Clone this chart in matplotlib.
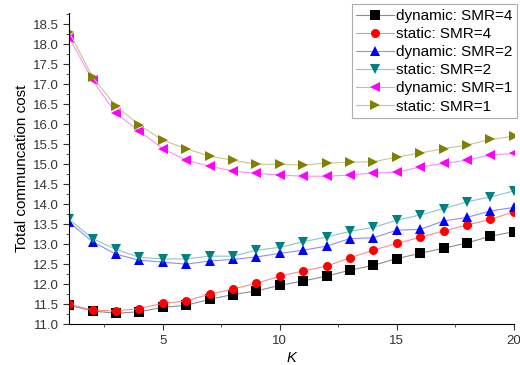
import numpy as np
import matplotlib
matplotlib.use("Agg")
import matplotlib.pyplot as plt
from matplotlib.ticker import MultipleLocator, FormatStrFormatter

plt.rcParams['font.family'] = ['Liberation Sans', 'DejaVu Sans']

k = np.arange(1, 21)

dyn_smr4 = [11.47, 11.33, 11.27, 11.31, 11.42, 11.47, 11.62, 11.74, 11.83, 11.97,
            12.08, 12.20, 12.35, 12.47, 12.64, 12.77, 12.90, 13.03, 13.20, 13.31]
sta_smr4 = [11.50, 11.35, 11.33, 11.39, 11.52, 11.58, 11.75, 11.88, 12.02, 12.20,
            12.33, 12.45, 12.66, 12.85, 13.02, 13.17, 13.33, 13.48, 13.62, 13.81]
dyn_smr2 = [13.55, 13.06, 12.75, 12.60, 12.55, 12.50, 12.58, 12.62, 12.68, 12.77,
            12.85, 12.95, 13.14, 13.16, 13.35, 13.37, 13.58, 13.67, 13.83, 13.92]
sta_smr2 = [13.62, 13.14, 12.87, 12.67, 12.63, 12.63, 12.70, 12.70, 12.85, 12.92,
            13.06, 13.18, 13.32, 13.42, 13.60, 13.73, 13.89, 14.06, 14.18, 14.33]
dyn_smr1 = [18.17, 17.10, 16.27, 15.83, 15.39, 15.10, 14.95, 14.83, 14.77, 14.73,
            14.70, 14.70, 14.73, 14.78, 14.80, 14.93, 15.02, 15.10, 15.23, 15.27]
sta_smr1 = [18.31, 17.18, 16.45, 15.98, 15.60, 15.39, 15.20, 15.10, 15.00, 15.00,
            14.98, 15.03, 15.05, 15.06, 15.18, 15.28, 15.39, 15.48, 15.62, 15.70]

series = [
    (dyn_smr4, 'dynamic: SMR=4', 'black', 's'),
    (sta_smr4, 'static: SMR=4', 'red', 'o'),
    (dyn_smr2, 'dynamic: SMR=2', 'blue', '^'),
    (sta_smr2, 'static: SMR=2', '#008080', 'v'),
    (dyn_smr1, 'dynamic: SMR=1', 'magenta', '<'),
    (sta_smr1, 'static: SMR=1', '#808000', '>'),
]

fig = plt.figure(figsize=(5.2, 3.65), dpi=100)
ax = fig.add_axes([0.133, 0.112, 0.855, 0.852])

for vals, lab, col, m in series:
    rgb = matplotlib.colors.to_rgb(col)
    light = tuple(0.55 + 0.45 * x for x in rgb)
    ax.plot(k, vals, color=light, linewidth=0.8, marker=m, markersize=6.5,
            markerfacecolor=col, markeredgewidth=0, label=lab)

ax.set_xlim(1, 20)
ax.set_ylim(11.0, 18.78)
ax.xaxis.set_major_locator(MultipleLocator(5))
ax.xaxis.set_minor_locator(MultipleLocator(2.5))
ax.yaxis.set_major_locator(MultipleLocator(0.5))
ax.yaxis.set_minor_locator(MultipleLocator(0.25))
ax.yaxis.set_major_formatter(FormatStrFormatter('%.1f'))
ax.spines['top'].set_visible(False)
ax.spines['right'].set_visible(False)
ax.tick_params(axis='both', which='both', direction='out', labelsize=9.5,
               colors='#333333')
ax.tick_params(which='major', length=4)
ax.tick_params(which='minor', length=2.5)

ax.set_xlabel('K', fontsize=10.5, style='italic', labelpad=3)
ax.set_ylabel('Total communcation cost', fontsize=11, labelpad=3)

leg = ax.legend(loc='upper right', bbox_to_anchor=(0.994, 0.988),
                bbox_transform=fig.transFigure, fontsize=11, frameon=True,
                fancybox=False, edgecolor='#999999', handlelength=2.5,
                handletextpad=0.1, labelspacing=0.27, borderpad=0.3,
                borderaxespad=0.0)
leg.get_frame().set_linewidth(0.8)

fig.savefig('out.png', dpi=100)
